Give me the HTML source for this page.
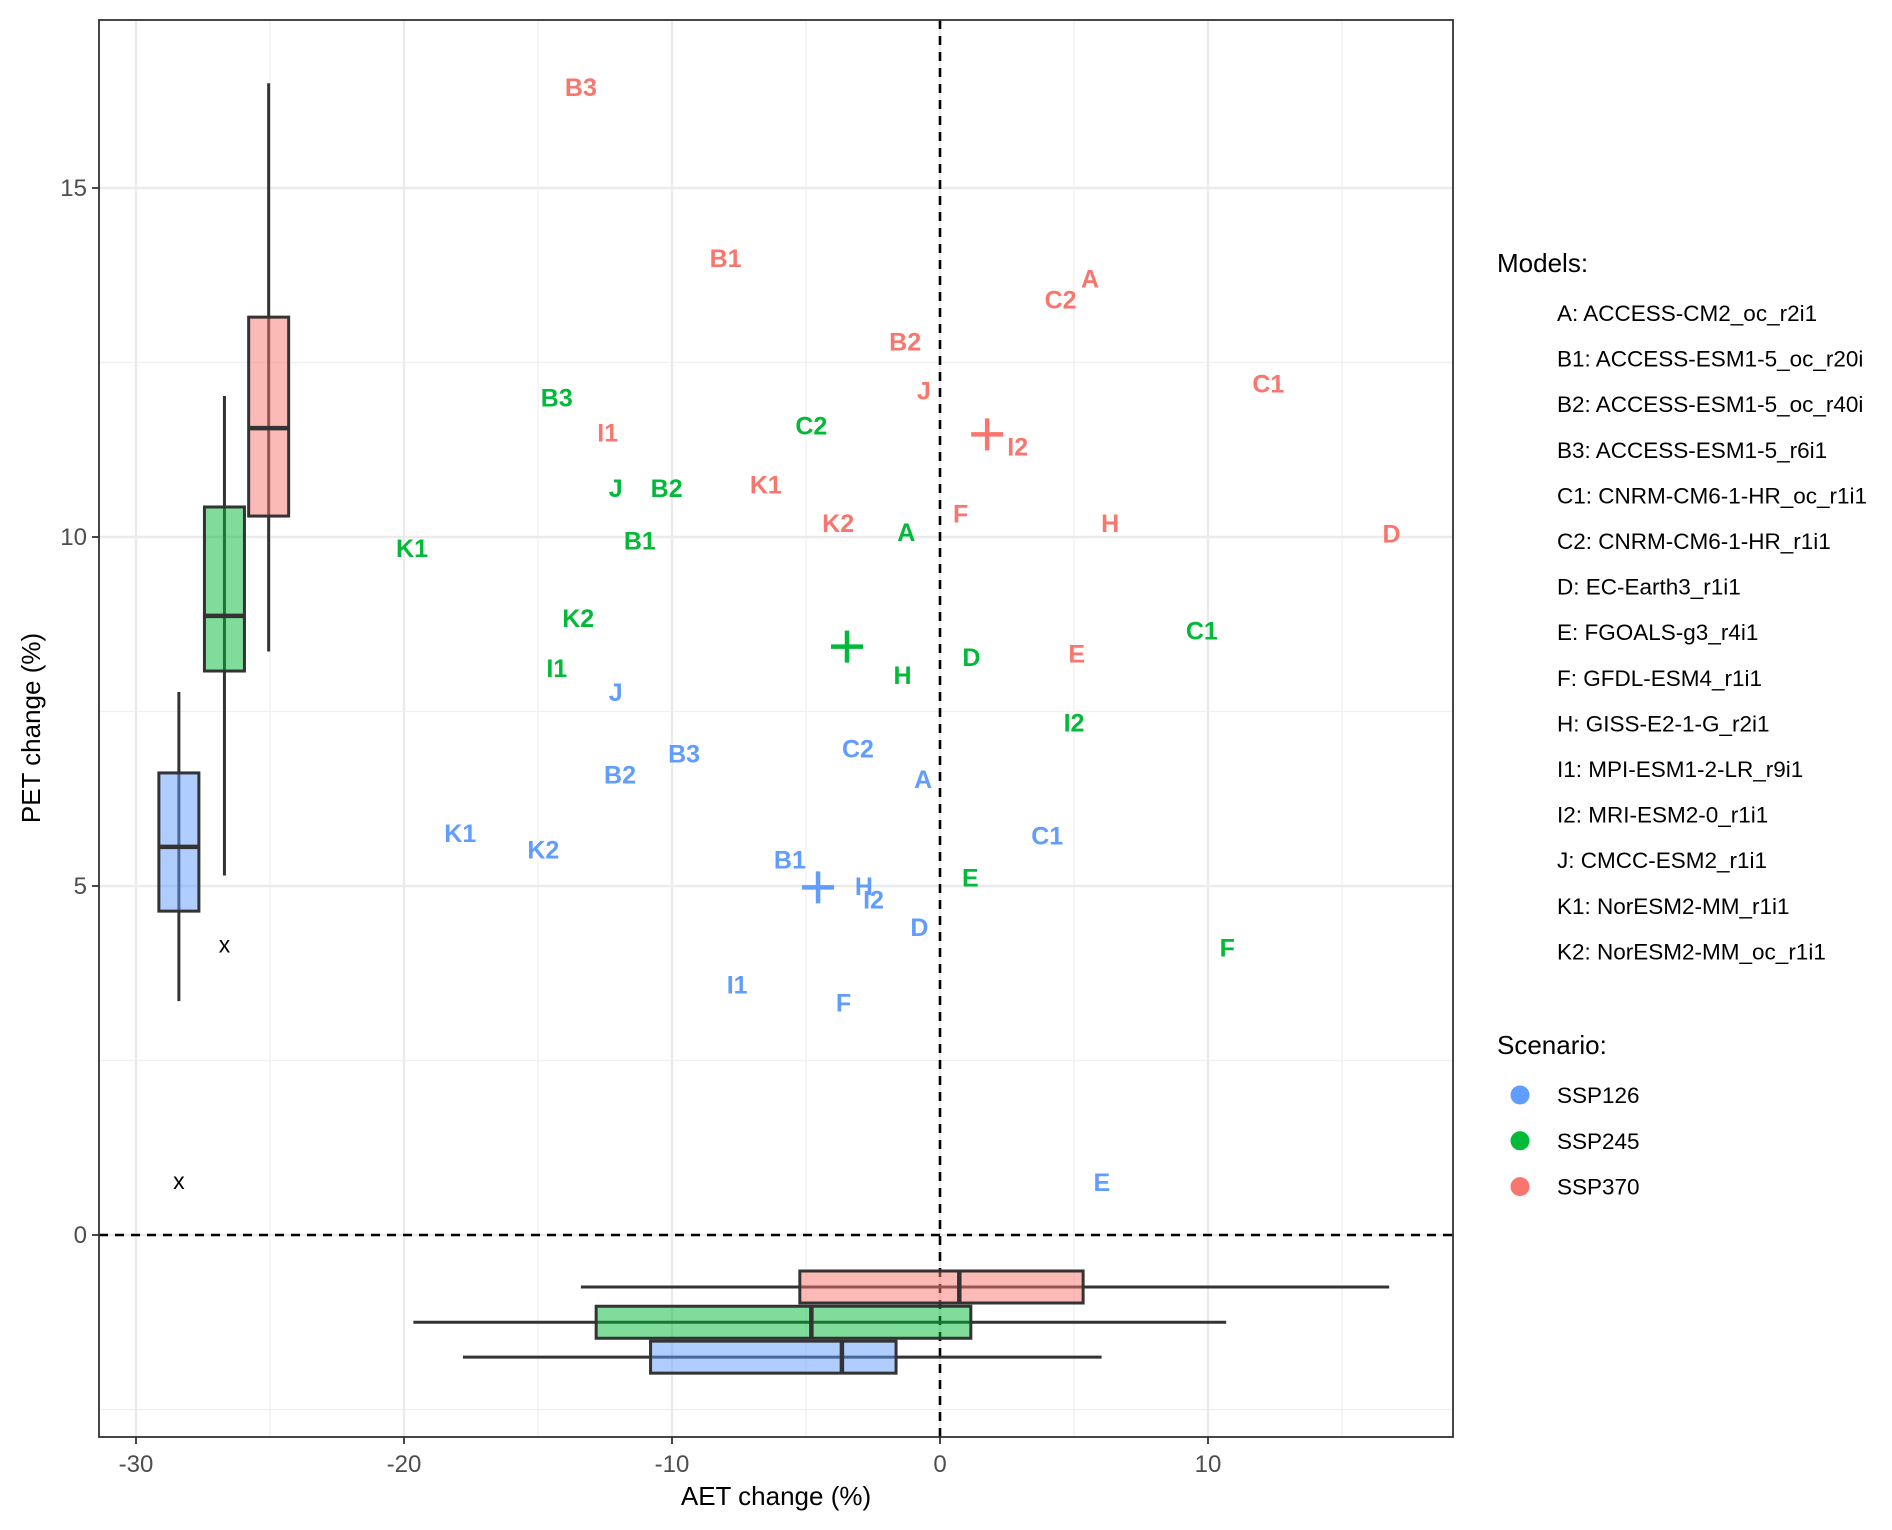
<!DOCTYPE html>
<html><head><meta charset="utf-8"><style>
html,body{margin:0;padding:0;background:#fff;}
svg{display:block;font-family:"Liberation Sans",Arial,sans-serif;}
</style></head><body>
<svg id="chart" width="1892" height="1530" viewBox="0 0 1892 1530">
<g id="grid"></g>
<g id="marks"></g>
<g id="axes"></g>
<text x="776" y="1505" font-size="26" text-anchor="middle" fill="#000">AET change (%)</text>
<text transform="translate(40,728) rotate(-90)" font-size="26" text-anchor="middle" fill="#000">PET change (%)</text>
<g id="legend"></g>
</svg>
<script>
const NS='http://www.w3.org/2000/svg';
const xTicks=[-30,-20,-10,0,10];
const xMinor=[-25,-15,-5,5,15];
const yTicks=[0,5,10,15];
const yMinor=[-2.5,2.5,7.5,12.5];
const scenarios=['SSP126','SSP245','SSP370'];
const colors=['#619CFF','#00BA38','#F8766D'];
const models=['A: ACCESS-CM2_oc_r2i1','B1: ACCESS-ESM1-5_oc_r20i','B2: ACCESS-ESM1-5_oc_r40i','B3: ACCESS-ESM1-5_r6i1','C1: CNRM-CM6-1-HR_oc_r1i1','C2: CNRM-CM6-1-HR_r1i1','D: EC-Earth3_r1i1','E: FGOALS-g3_r4i1','F: GFDL-ESM4_r1i1','H: GISS-E2-1-G_r2i1','I1: MPI-ESM1-2-LR_r9i1','I2: MRI-ESM2-0_r1i1','J: CMCC-ESM2_r1i1','K1: NorESM2-MM_r1i1','K2: NorESM2-MM_oc_r1i1'];
const labels=['A','B1','B2','B3','C1','C2','D','E','F','H','I1','I2','J','K1','K2'];
const aet126=[-0.63,-5.6,-11.94,-9.55,4.0,-3.06,-0.77,6.04,-3.6,-2.84,-7.57,-2.48,-12.1,-17.9,-14.8];
const pet126=[6.53,5.38,6.6,6.9,5.72,6.97,4.41,0.76,3.33,5.0,3.59,4.81,7.78,5.76,5.52];
const aet245=[-1.26,-11.2,-10.2,-14.3,9.77,-4.8,1.17,1.13,10.72,-1.4,-14.3,5.0,-12.1,-19.7,-13.5];
const pet245=[10.07,9.95,10.7,12.0,8.66,11.6,8.28,5.12,4.12,8.02,8.12,7.34,10.7,9.84,8.84];
const aet370=[5.6,-8.0,-1.3,-13.4,12.25,4.5,16.85,5.1,0.77,6.35,-12.4,2.9,-0.6,-6.5,-3.8];
const pet370=[13.7,14.0,12.8,16.45,12.2,13.4,10.05,8.33,10.34,10.2,11.5,11.3,12.1,10.75,10.2];
const centroidAet=[-4.55,-3.47,1.76];
const centroidPet=[4.98,8.43,11.47];
const petBoxX=[-28.4,-26.7,-25.05];
const petStats126=[3.35,4.64,5.56,6.62,7.78];
const petStats245=[5.15,8.08,8.87,10.43,12.02];
const petStats370=[8.36,10.30,11.56,13.15,16.5];
const petOutX=[-28.4,-26.7];
const petOutY=[0.76,4.15];
const aetBoxY=[-1.75,-1.25,-0.745];
const aetStats126=[-17.8,-10.8,-3.66,-1.64,6.03];
const aetStats245=[-19.65,-12.83,-4.8,1.15,10.68];
const aetStats370=[-13.4,-5.23,0.72,5.34,16.76];

const L=99,R=1453,T=20,B=1437;
const sx=v=>940+v*26.8;
const sy=v=>1235-v*69.8;
function mk(tag,attrs,parent){const e=document.createElementNS(NS,tag);for(const k in attrs)e.setAttribute(k,attrs[k]);parent.appendChild(e);return e;}
const grid=document.getElementById('grid'),marks=document.getElementById('marks'),axes=document.getElementById('axes'),leg=document.getElementById('legend');
mk('rect',{x:L,y:T,width:R-L,height:B-T,fill:'#fff'},grid);
xMinor.forEach(v=>{const l=mk('line',{x1:sx(v),x2:sx(v),y1:T,y2:B,stroke:'#f0f0f0','stroke-width':1.3},grid);});
yMinor.forEach(v=>{const l=mk('line',{x1:L,x2:R,y1:sy(v),y2:sy(v),stroke:'#f0f0f0','stroke-width':1.3},grid);});
xTicks.forEach(v=>{const l=mk('line',{x1:sx(v),x2:sx(v),y1:T,y2:B,stroke:'#ebebeb','stroke-width':2.4},grid);});
yTicks.forEach(v=>{const l=mk('line',{x1:L,x2:R,y1:sy(v),y2:sy(v),stroke:'#ebebeb','stroke-width':2.4},grid);});
let z=mk('line',{x1:sx(0),x2:sx(0),y1:T,y2:B,stroke:'#000','stroke-width':2.6,'stroke-dasharray':'9,7'},grid);

z=mk('line',{x1:L,x2:R,y1:sy(0),y2:sy(0),stroke:'#000','stroke-width':2.6,'stroke-dasharray':'9,7'},grid);


const petStats=[petStats126,petStats245,petStats370];
const aetStats=[aetStats126,aetStats245,aetStats370];
for(let i=0;i<3;i++){
  const s=petStats[i],cx=sx(petBoxX[i]),hw=20;
  const g=mk('g',{},marks);
  mk('line',{x1:cx,x2:cx,y1:sy(s[0]),y2:sy(s[4]),stroke:'#333','stroke-width':3},g);
  mk('rect',{x:cx-hw,y:sy(s[3]),width:2*hw,height:sy(s[1])-sy(s[3]),fill:colors[i],'fill-opacity':0.5,stroke:'#333','stroke-width':3},g);
  mk('line',{x1:cx-hw,x2:cx+hw,y1:sy(s[2]),y2:sy(s[2]),stroke:'#333','stroke-width':4.5},g);
  const a=aetStats[i],cy=sy(aetBoxY[i]),hh=16;
  const g2=mk('g',{},marks);
  mk('line',{x1:sx(a[0]),x2:sx(a[4]),y1:cy,y2:cy,stroke:'#333','stroke-width':3},g2);
  mk('rect',{x:sx(a[1]),y:cy-hh,width:sx(a[3])-sx(a[1]),height:2*hh,fill:colors[i],'fill-opacity':0.5,stroke:'#333','stroke-width':3},g2);
  mk('line',{x1:sx(a[2]),x2:sx(a[2]),y1:cy-hh,y2:cy+hh,stroke:'#333','stroke-width':4.5},g2);
}
petOutX.forEach((v,i)=>{const t=mk('text',{x:sx(v),y:sy(petOutY[i])+7,'font-size':23,'text-anchor':'middle',fill:'#000'},marks);t.textContent='x';});

const aets=[aet126,aet245,aet370],pets=[pet126,pet245,pet370];
for(let i=0;i<3;i++){
  labels.forEach((lb,j)=>{
    const t=mk('text',{x:sx(aets[i][j]),y:sy(pets[i][j])+9,'font-size':25,'font-weight':'bold','text-anchor':'middle',fill:colors[i]},marks);
    t.textContent=lb;
    
    
  });
  const cx=sx(centroidAet[i]),cy=sy(centroidPet[i]);
  const p=mk('path',{d:`M${cx-16},${cy}H${cx+16}M${cx},${cy-16}V${cy+16}`,stroke:colors[i],'stroke-width':4.5},marks);
  
  
}
mk('rect',{x:L,y:T,width:R-L,height:B-T,fill:'none',stroke:'#333','stroke-width':1.8},axes);
xTicks.forEach(v=>{mk('line',{x1:sx(v),x2:sx(v),y1:B,y2:B+7,stroke:'#333','stroke-width':1.8},axes);
  const t=mk('text',{x:sx(v),y:B+35,'font-size':24,'text-anchor':'middle',fill:'#4d4d4d'},axes);t.textContent=v;});
yTicks.forEach(v=>{mk('line',{x1:L-7,x2:L,y1:sy(v),y2:sy(v),stroke:'#333','stroke-width':1.8},axes);
  const t=mk('text',{x:L-12,y:sy(v)+8,'font-size':24,'text-anchor':'end',fill:'#4d4d4d'},axes);t.textContent=v;});
let t=mk('text',{x:1497,y:272,'font-size':26,fill:'#000'},leg);t.textContent='Models:';
models.forEach((m,j)=>{const e=mk('text',{x:1557,y:321+j*45.6,'font-size':22.5,fill:'#000'},leg);e.textContent=m;});
t=mk('text',{x:1497,y:1054,'font-size':26,fill:'#000'},leg);t.textContent='Scenario:';
scenarios.forEach((s,i)=>{const y=1095+i*45.8;
  const c=mk('circle',{cx:1520,cy:y,r:9.5,fill:colors[i]},leg);
  const e=mk('text',{x:1557,y:y+8,'font-size':22.5,fill:'#000'},leg);e.textContent=s;});
</script>
</body></html>
